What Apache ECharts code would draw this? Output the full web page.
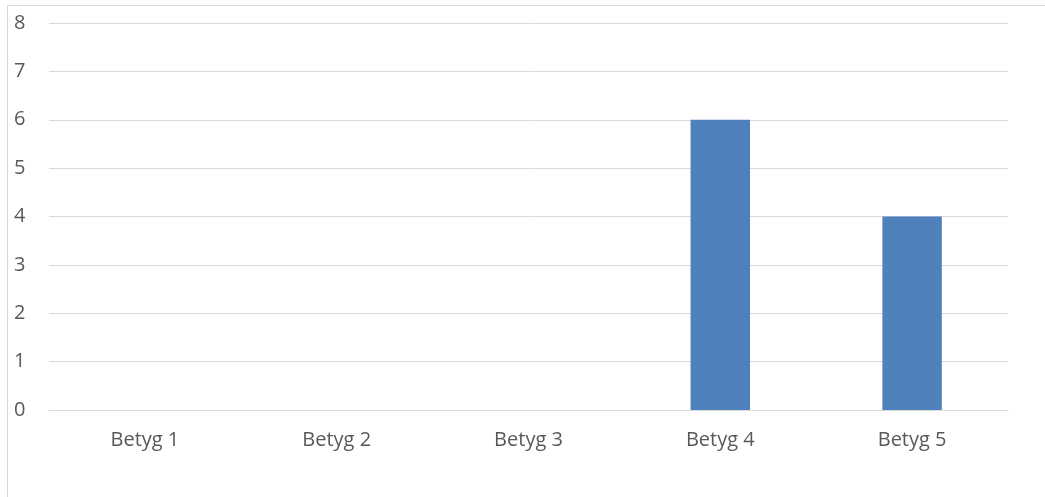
<!DOCTYPE html>
<html>
<head>
<meta charset="utf-8">
<script src="https://cdn.jsdelivr.net/npm/echarts@6/dist/echarts.min.js"></script>
<style>html,body{margin:0;padding:0;background:#fff;}#c{width:1045px;height:497px;}</style>
</head>
<body>
<div id="c"></div>
<script>
const categories = ['Betyg 1', 'Betyg 2', 'Betyg 3', 'Betyg 4', 'Betyg 5'];
const values = [0, 0, 0, 6, 4];
const yTicks = [0, 1, 2, 3, 4, 5, 6, 7, 8];

const chart = echarts.init(document.getElementById('c'), null, {renderer: 'canvas'});
chart.setOption({
  animation: false,
  backgroundColor: '#fff',
  graphic: [{
    type: 'rect',
    shape: {x: 7.5, y: 5.5, width: 1200, height: 600},
    style: {fill: 'none', stroke: '#d9d9d9', lineWidth: 1},
    silent: true
  }],
  grid: {left: 49, right: 37, top: 23, bottom: 87},
  xAxis: {
    type: 'category',
    data: categories,
    axisLine: {show: true, lineStyle: {color: '#d9d9d9', width: 1}},
    axisTick: {show: false},
    axisLabel: {color: '#595959', fontSize: 20, fontFamily: 'Open Sans', margin: 20}
  },
  yAxis: {
    type: 'value',
    min: yTicks[0],
    max: yTicks[yTicks.length - 1],
    interval: 1,
    axisLine: {show: false},
    axisTick: {show: false},
    splitLine: {lineStyle: {color: '#d9d9d9', width: 1}},
    axisLabel: {color: '#595959', fontSize: 20, fontFamily: 'Open Sans', margin: 35, align: 'left'}
  },
  series: [{
    type: 'bar',
    data: values,
    barWidth: '31%',
    itemStyle: {color: '#4f81bd'}
  }]
});
</script>
</body>
</html>
